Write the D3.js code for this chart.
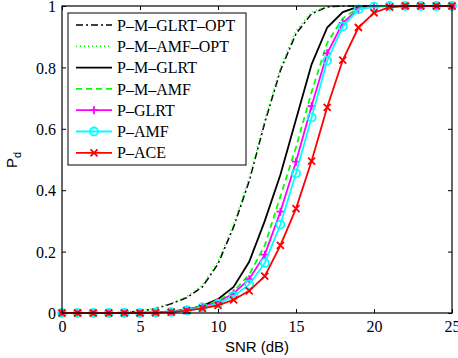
<!DOCTYPE html>
<html>
<head>
<meta charset="utf-8">
<script src="https://cdn.jsdelivr.net/npm/d3@7"></script>
<style>
  body { margin: 0; background: #fff; }
  svg { display: block; }
</style>
</head>
<body>
<svg id="chart" width="458" height="358"></svg>
<script>
// SNR grid (dB) shared by every curve
const snr = d3.range(0, 26)

// Pd values, one per SNR step
const mGlrtOpt = [0, 0, 0, 0, 0.002, 0.006, 0.014, 0.03, 0.05, 0.085, 0.16, 0.28, 0.43, 0.62, 0.79, 0.91, 0.975, 0.997, 1, 1, 1, 1, 1, 1, 1, 1]
const mAmfOpt  = [0, 0, 0, 0, 0.002, 0.007, 0.016, 0.032, 0.054, 0.09, 0.168, 0.29, 0.44, 0.63, 0.80, 0.92, 0.98, 0.998, 1, 1, 1, 1, 1, 1, 1, 1]
const mGlrt    = [0, 0, 0, 0, 0, 0.001, 0.002, 0.005, 0.011, 0.023, 0.045, 0.085, 0.167, 0.30, 0.45, 0.63, 0.81, 0.93, 0.98, 0.998, 1, 1, 1, 1, 1, 1]
const mAmf     = [0, 0, 0, 0, 0, 0.001, 0.002, 0.004, 0.011, 0.022, 0.04, 0.07, 0.125, 0.22, 0.38, 0.54, 0.72, 0.88, 0.96, 0.993, 1, 1, 1, 1, 1, 1]
const pGlrt    = [0, 0, 0, 0, 0, 0, 0.001, 0.004, 0.01, 0.02, 0.035, 0.064, 0.11, 0.19, 0.33, 0.493, 0.674, 0.846, 0.945, 0.99, 0.999, 1, 1, 1, 1, 1]
const pAmf     = [0, 0, 0, 0, 0, 0, 0.001, 0.003, 0.009, 0.018, 0.03, 0.055, 0.093, 0.163, 0.288, 0.455, 0.637, 0.822, 0.933, 0.989, 0.998, 1, 1, 1, 1, 1]
const pAce     = [0, 0, 0, 0, 0, 0, 0.001, 0.003, 0.008, 0.015, 0.025, 0.043, 0.072, 0.12, 0.22, 0.34, 0.495, 0.67, 0.824, 0.93, 0.978, 0.996, 1, 1, 1, 1]

const xTicks = [0, 5, 10, 15, 20, 25]
const yTicks = [0, 0.2, 0.4, 0.6, 0.8, 1]
const yTickLabels = ['0', '0.2', '0.4', '0.6', '0.8', '1']

// series list: name, values, colour, dash pattern, marker
const series = [
  { name: 'P\u2013M\u2013GLRT\u2013OPT', values: mGlrtOpt, color: '#000', dash: '7,3,2,3', marker: null, width: 1.5 },
  { name: 'P\u2013M\u2013AMF\u2013OPT', values: mAmfOpt, color: '#00ff00', dash: '1,3', marker: null, width: 1.5 },
  { name: 'P\u2013M\u2013GLRT', values: mGlrt, color: '#000', dash: null, marker: null, width: 1.8 },
  { name: 'P\u2013M\u2013AMF', values: mAmf, color: '#00ff00', dash: '6,4', marker: null, width: 1.8 },
  { name: 'P\u2013GLRT', values: pGlrt, color: '#ff00ff', dash: null, marker: 'plus', width: 1.8 },
  { name: 'P\u2013AMF', values: pAmf, color: '#00ffff', dash: null, marker: 'circle', width: 1.8 },
  { name: 'P\u2013ACE', values: pAce, color: '#ff0000', dash: null, marker: 'cross', width: 1.8 }
]

const svg = d3.select('#chart')
const plot = { left: 62, right: 452, top: 6, bottom: 313 }

const x = d3.scaleLinear().domain([0, 25]).range([plot.left, plot.right])
const y = d3.scaleLinear().domain([0, 1]).range([plot.bottom, plot.top])

const serif = 'Liberation Serif, Times New Roman, serif'
const sans = 'Liberation Sans, Arial, sans-serif'

// Draws one marker symbol at (cx, cy)
const drawMarker = (g, type, cx, cy, color) => {
  if (type == 'circle') {
    g.append('circle').attr('cx', cx).attr('cy', cy).attr('r', 4)
      .attr('fill', 'none').attr('stroke', color).attr('stroke-width', 1.8)
  } else if (type == 'plus') {
    g.append('path').attr('d', `M${cx - 4},${cy}H${cx + 4}M${cx},${cy - 4}V${cy + 4}`)
      .attr('stroke', color).attr('stroke-width', 1.8)
  } else if (type == 'cross') {
    g.append('path').attr('d', `M${cx - 3.5},${cy - 3.5}L${cx + 3.5},${cy + 3.5}M${cx - 3.5},${cy + 3.5}L${cx + 3.5},${cy - 3.5}`)
      .attr('stroke', color).attr('stroke-width', 1.8)
  }
}

// Axes: ticks inside, on all four sides (MATLAB box style)
const xAxis = d3.axisBottom(x).tickValues(xTicks).tickSize(-4).tickPadding(8).tickFormat(d3.format('d'))
const yAxis = d3.axisLeft(y).tickValues(yTicks).tickSize(-4).tickPadding(6).tickFormat((d, i) => yTickLabels[i])

const gx = svg.append('g').attr('transform', `translate(0,${plot.bottom})`).call(xAxis)
const gy = svg.append('g').attr('transform', `translate(${plot.left},0)`).call(yAxis)
svg.append('g').attr('transform', `translate(0,${plot.top})`)
  .call(d3.axisTop(x).tickValues(xTicks).tickSize(-4).tickFormat(''))
svg.append('g').attr('transform', `translate(${plot.right},0)`)
  .call(d3.axisRight(y).tickValues(yTicks).tickSize(-4).tickFormat(''))

svg.selectAll('.domain').remove()
svg.selectAll('.tick line').attr('stroke', '#000').attr('stroke-width', 1)
gx.selectAll('text').attr('font-family', serif).attr('font-size', 16).attr('fill', '#000')
gy.selectAll('text').attr('font-family', serif).attr('font-size', 16).attr('fill', '#000').attr('dy', '0.35em')

// Curves
const line = d3.line().x((d, i) => x(snr[i])).y(d => y(d))
series.forEach(s => {
  svg.append('path')
    .datum(s.values)
    .attr('d', line)
    .attr('fill', 'none')
    .attr('stroke', s.color)
    .attr('stroke-width', s.width)
    .attr('stroke-dasharray', s.dash)
  if (s.marker) {
    const gm = svg.append('g')
    s.values.forEach((v, i) => drawMarker(gm, s.marker, x(snr[i]), y(v), s.color))
  }
})

// Box
svg.append('rect')
  .attr('x', plot.left).attr('y', plot.top)
  .attr('width', plot.right - plot.left).attr('height', plot.bottom - plot.top)
  .attr('fill', 'none').attr('stroke', '#000').attr('stroke-width', 1.2)

// Axis titles
svg.append('text')
  .attr('x', (plot.left + plot.right) / 2).attr('y', 352)
  .attr('text-anchor', 'middle').attr('font-family', sans).attr('font-size', 15)
  .text('SNR (dB)')

const yl = svg.append('text')
  .attr('transform', 'translate(17,160) rotate(-90)')
  .attr('text-anchor', 'middle').attr('font-family', sans).attr('font-size', 15)
yl.append('tspan').text('P')
yl.append('tspan').attr('font-size', 11).attr('dy', 4).text('d')

// Legend
const legend = { x: 68, y: 13, w: 178, h: 152, rowH: 21.3 }
svg.append('rect')
  .attr('x', legend.x).attr('y', legend.y).attr('width', legend.w).attr('height', legend.h)
  .attr('fill', '#fff').attr('stroke', '#000').attr('stroke-width', 1)

series.forEach((s, i) => {
  const cy = legend.y + 12 + i * legend.rowH
  svg.append('line')
    .attr('x1', legend.x + 8).attr('x2', legend.x + 44)
    .attr('y1', cy).attr('y2', cy)
    .attr('stroke', s.color).attr('stroke-width', s.width)
    .attr('stroke-dasharray', s.dash)
  if (s.marker) drawMarker(svg, s.marker, legend.x + 26, cy, s.color)
  svg.append('text')
    .attr('x', legend.x + 49).attr('y', cy).attr('dy', '0.35em')
    .attr('font-family', serif).attr('font-size', 16)
    .text(s.name)
})
</script>
</body>
</html>
